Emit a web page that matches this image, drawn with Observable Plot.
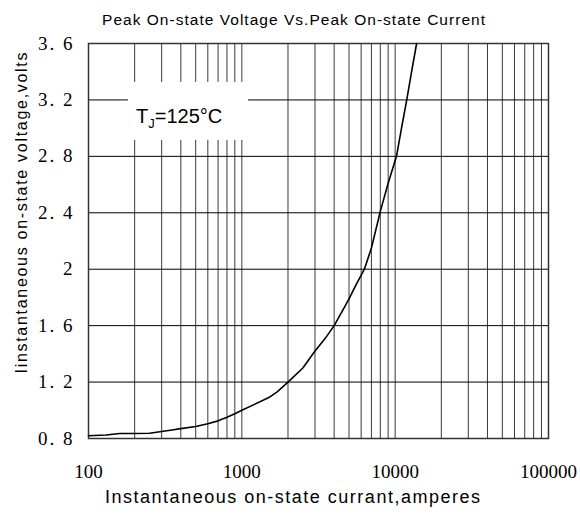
<!DOCTYPE html>
<html><head><meta charset="utf-8">
<script src="https://cdn.jsdelivr.net/npm/d3@7"></script>
<script src="https://cdn.jsdelivr.net/npm/@observablehq/plot@0.6"></script>
<style>body{margin:0;background:#fff}</style>
</head><body><div id="chart"></div>
<script>
const current = [100,130,160,200,250,300,350,400,500,600,700,800,900,1000,1200,1500,1700,2000,2500,3000,3500,4000,4500,5000,5500,6300,7000,8000,9000,10200,11000,11900,12800,13800];
const voltage = [0.82,0.825,0.835,0.835,0.837,0.85,0.86,0.87,0.885,0.905,0.925,0.95,0.975,1.0,1.04,1.09,1.13,1.2,1.3,1.42,1.51,1.6,1.7,1.79,1.88,2.0,2.15,2.41,2.61,2.8,3.0,3.2,3.4,3.6];
const yTicks = [0.8,1.2,1.6,2.0,2.4,2.8,3.2,3.6];
const yTickLabels = ["0. 8","1. 2","1. 6","2","2. 4","2. 8","3. 2","3. 6"];
const xTicks = [100,1000,10000,100000];
const xTickLabels = ["100","1000","10000","100000"];
const xGrid = [];
for (const d of [100,1000,10000]) for (let k=1;k<=9;k++) xGrid.push(d*k);
xGrid.push(100000);
const title = "Peak On-state Voltage Vs.Peak On-state Current";
const xLabel = "Instantaneous on-state currant,amperes";
const yLabel = "Iinstantaneous on-state voltage,volts";
const annot = [{x1:182,x2:1106,y1:2.913,y2:3.324,tx:390,ty:3.08,text:"TJ=125°C"}];

const data = current.map((c,i)=>({c, v: voltage[i]}));
const fmtX = (d)=>xTickLabels[xTicks.indexOf(d)];
const fmtY = (d)=>yTickLabels[yTicks.findIndex(t=>Math.abs(t-d)<1e-9)];

const chart = Plot.plot({
  width: 580, height: 517,
  marginLeft: 88, marginRight: 32, marginTop: 43, marginBottom: 79,
  style: {background:"#fff", color:"#000"},
  x: {type:"log", domain:[100,100000], label:null},
  y: {domain:[0.8,3.6], label:null},
  marks: [
    Plot.ruleX(xGrid, {stroke:"#3a3a3a", strokeWidth:1}),
    Plot.ruleY(yTicks, {stroke:"#000", strokeWidth:1}),
    Plot.rect(annot, {x1:"x1",x2:"x2",y1:"y1",y2:"y2", fill:"#fff"}),
    Plot.text(annot, {x:"tx", y:"ty", text:"text", fontSize:20, fontFamily:"Liberation Sans, Arial, sans-serif", fill:"#000"}),
    Plot.frame({stroke:"#333", strokeWidth:1.5}),
    Plot.line(data, {x:"c", y:"v", stroke:"#000", strokeWidth:1.6}),
    Plot.axisX({ticks:xTicks, tickFormat:fmtX, tickSize:0, tickPadding:26, fontSize:19, fontFamily:"Liberation Serif, serif", label:null}),
    Plot.axisY({ticks:yTicks, tickFormat:fmtY, tickSize:0, tickPadding:14, fontSize:19, fontFamily:"Liberation Serif, serif", label:null, className:"yax"}),
    Plot.text([title], {frameAnchor:"top", dy:-30, dx:-25, fontSize:15.5, fontFamily:"Liberation Sans, Arial, sans-serif", fill:"#000"}),
    Plot.text([xLabel], {frameAnchor:"bottom", dy:64, dx:-26, fontSize:18, fontFamily:"Liberation Sans, Arial, sans-serif", fill:"#000"}),
    Plot.text([yLabel], {frameAnchor:"left", textAnchor:"middle", dx:-67, dy:-28, rotate:-90, fontSize:16, fontFamily:"Liberation Sans, Arial, sans-serif", fill:"#000"})
  ]
});
document.getElementById("chart").appendChild(chart);
const lengths = {};
lengths[title] = 383; lengths[xLabel] = 375; lengths[yLabel] = 321;
chart.querySelectorAll("text").forEach(t=>{
  const s = t.textContent;
  if (lengths[s]) { t.setAttribute("textLength", lengths[s]); t.setAttribute("lengthAdjust","spacing"); }
  if (yTickLabels.includes(s) && t.closest(".yax")) { t.style.letterSpacing = "2px"; }
  if (s === "TJ=125°C") {
    t.textContent = "";
    const ns = "http://www.w3.org/2000/svg";
    const a = document.createElementNS(ns,"tspan"); a.textContent="T"; t.appendChild(a);
    const b = document.createElementNS(ns,"tspan"); b.textContent="J"; b.setAttribute("font-size","13"); b.setAttribute("dy","5"); t.appendChild(b);
    const c = document.createElementNS(ns,"tspan"); c.textContent="=125°C"; c.setAttribute("dy","-5"); t.appendChild(c);
  }
});
</script></body></html>
